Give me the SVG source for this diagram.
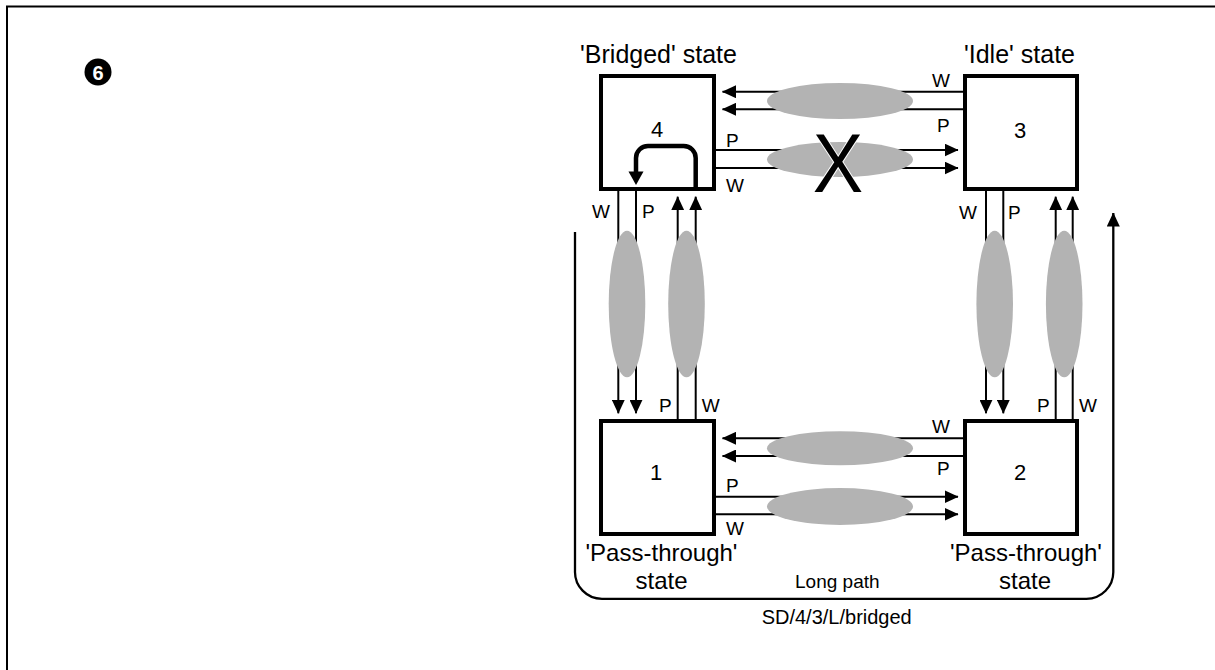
<svg xmlns="http://www.w3.org/2000/svg" width="1215" height="670" viewBox="0 0 1215 670">
<style>
.box{fill:#fff;stroke:#000;stroke-width:4}
.ln{fill:none;stroke:#000;stroke-width:2}
.el{fill:#b3b3b3;stroke:none}
.t{font-family:"Liberation Sans",Arial,sans-serif;fill:#000}
.lbl{font-size:19px}
.st{font-size:25px;text-anchor:middle}
.pt{font-size:24px;text-anchor:middle}
.num{font-size:22px;text-anchor:middle}
</style>
<defs>
<marker id="ah" markerUnits="userSpaceOnUse" markerWidth="14" markerHeight="13" viewBox="0 0 14 13" refX="13.5" refY="6.5" orient="auto">
<path d="M0,0 L14,6.5 L0,13 z" fill="#000"/>
</marker>
</defs>
<rect width="1215" height="670" fill="#fff"/>
<g id="frame">
<path d="M7,670 V6.5 H1215" fill="none" stroke="#000" stroke-width="2"/>
</g>
<g id="badge">
<circle cx="98" cy="72" r="13.5" fill="#000"/>
<text class="t" x="98" y="79.5" font-size="20" font-weight="bold" text-anchor="middle" style="fill:#fff">6</text>
</g>
<g id="connectors">
<line class="ln" x1="963" y1="91.7" x2="722.5" y2="91.7" marker-end="url(#ah)"/>
<line class="ln" x1="963" y1="109.3" x2="722.5" y2="109.3" marker-end="url(#ah)"/>
<line class="ln" x1="716" y1="150" x2="958" y2="150" marker-end="url(#ah)"/>
<line class="ln" x1="716" y1="168" x2="958" y2="168" marker-end="url(#ah)"/>
<line class="ln" x1="963" y1="438.3" x2="722.5" y2="438.3" marker-end="url(#ah)"/>
<line class="ln" x1="963" y1="456" x2="722.5" y2="456" marker-end="url(#ah)"/>
<line class="ln" x1="716" y1="496.7" x2="958" y2="496.7" marker-end="url(#ah)"/>
<line class="ln" x1="716" y1="514.3" x2="958" y2="514.3" marker-end="url(#ah)"/>
<line class="ln" x1="618.3" y1="190" x2="618.3" y2="413.3" marker-end="url(#ah)"/>
<line class="ln" x1="636" y1="190" x2="636" y2="413.3" marker-end="url(#ah)"/>
<line class="ln" x1="677.7" y1="419" x2="677.7" y2="196.7" marker-end="url(#ah)"/>
<line class="ln" x1="695.7" y1="419" x2="695.7" y2="196.7" marker-end="url(#ah)"/>
<line class="ln" x1="986" y1="190" x2="986" y2="413.3" marker-end="url(#ah)"/>
<line class="ln" x1="1003.3" y1="190" x2="1003.3" y2="413.3" marker-end="url(#ah)"/>
<line class="ln" x1="1055.7" y1="419" x2="1055.7" y2="196.7" marker-end="url(#ah)"/>
<line class="ln" x1="1072.7" y1="419" x2="1072.7" y2="196.7" marker-end="url(#ah)"/>
<path d="M575,232 V571 A27,27 0 0 0 602,598.8 H1086 A27,27 0 0 0 1113.3,571 V213" fill="none" stroke="#000" stroke-width="2.3" marker-end="url(#ah)"/>
<ellipse class="el" cx="840" cy="101" rx="73" ry="18"/>
<ellipse class="el" cx="840" cy="159.5" rx="73" ry="17.5"/>
<ellipse class="el" cx="840" cy="448.3" rx="73" ry="17"/>
<ellipse class="el" cx="840" cy="506.5" rx="73" ry="18.5"/>
<ellipse class="el" cx="627" cy="304" rx="18.3" ry="73.3"/>
<ellipse class="el" cx="686.5" cy="304" rx="18.3" ry="73.3"/>
<ellipse class="el" cx="994.7" cy="304" rx="18.3" ry="73.3"/>
<ellipse class="el" cx="1064.2" cy="304" rx="18.3" ry="73.3"/>
<text class="t" x="838" y="191.7" font-size="84" text-anchor="middle" transform="translate(838 0) scale(0.9 1) translate(-838 0)" stroke="#fff" stroke-width="2" paint-order="stroke">X</text>
</g>
<g id="node4">
<rect class="box" x="601" y="76" width="113" height="113"/>
<text class="t num" x="657" y="136.7">4</text>
<path d="M695.7,189 V158 A12,12 0 0 0 683.7,146 H648 A12,12 0 0 0 636,158 V173" fill="none" stroke="#000" stroke-width="4.5"/>
<path d="M628.5,171.5 L643.5,171.5 L636,185 z" fill="#000"/>
<text class="t st" x="658.5" y="63">'Bridged' state</text>
</g>
<g id="node3">
<rect class="box" x="965" y="76" width="112" height="113"/>
<text class="t num" x="1020" y="138">3</text>
<text class="t st" x="1019.5" y="63">'Idle' state</text>
</g>
<g id="node1">
<rect class="box" x="601" y="421" width="113" height="113"/>
<text class="t num" x="656" y="480">1</text>
<text class="t pt" x="661.5" y="560.5">'Pass-through'</text>
<text class="t pt" x="661.5" y="588.5">state</text>
</g>
<g id="node2">
<rect class="box" x="965" y="421" width="112" height="113"/>
<text class="t num" x="1020" y="480">2</text>
<text class="t pt" x="1026" y="560.5">'Pass-through'</text>
<text class="t pt" x="1025" y="588.5">state</text>
</g>
<g id="labels">
<text class="t lbl" x="932" y="87">W</text>
<text class="t lbl" x="937" y="132">P</text>
<text class="t lbl" x="726" y="147">P</text>
<text class="t lbl" x="726" y="192">W</text>
<text class="t lbl" x="932" y="433">W</text>
<text class="t lbl" x="937" y="475">P</text>
<text class="t lbl" x="726" y="492">P</text>
<text class="t lbl" x="726" y="535">W</text>
<text class="t lbl" x="592" y="218">W</text>
<text class="t lbl" x="642" y="218">P</text>
<text class="t lbl" x="659" y="411.7">P</text>
<text class="t lbl" x="701.7" y="411.7">W</text>
<text class="t lbl" x="959" y="219">W</text>
<text class="t lbl" x="1008" y="219">P</text>
<text class="t lbl" x="1037" y="412">P</text>
<text class="t lbl" x="1079" y="412">W</text>
<text class="t" x="837.3" y="588.3" font-size="19" text-anchor="middle">Long path</text>
<text class="t" x="836.7" y="624.3" font-size="20" text-anchor="middle">SD/4/3/L/bridged</text>
</g>
</svg>
